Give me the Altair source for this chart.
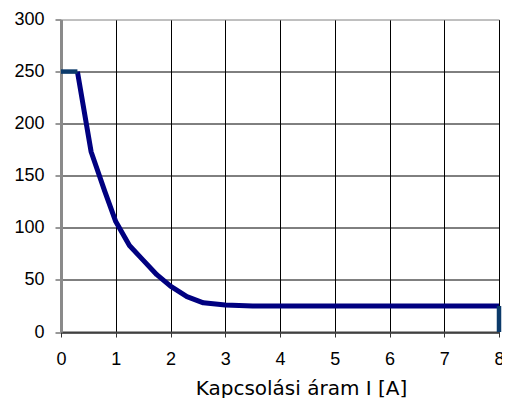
import altair as alt
import pandas as pd

# Main characteristic curve
curve_x = [0.3, 0.55, 0.8, 1.0, 1.25, 1.5, 1.75, 2.0, 2.3, 2.6, 3.0, 3.5, 8.0]
curve_y = [250, 173, 135, 106, 83, 69, 55, 44, 34, 28, 26, 25, 25]

# Limit segments (top plateau and drop at the right end)
limit_x = [0.0, 0.3, 8.0, 8.0]
limit_y = [250, 250, 25, 0]
limit_seg = [0, 0, 1, 1]

x_ticks = [0, 1, 2, 3, 4, 5, 6, 7, 8]
y_grid = [0, 25, 50, 75, 100, 125, 150, 175, 200, 225, 250, 275, 300]

curve = pd.DataFrame({"x": curve_x, "y": curve_y, "i": list(range(len(curve_x)))})
limit = pd.DataFrame({"x": limit_x, "y": limit_y, "seg": limit_seg,
                      "i": list(range(len(limit_x)))})

LABEL_FONT = "Liberation Sans"

xenc = alt.X(
    "x:Q",
    scale=alt.Scale(domain=[0, 8], nice=False, zero=False),
    axis=alt.Axis(
        values=x_ticks,
        format="d",
        title="Kapcsolási áram I [A]",
        titleFont="DejaVu Sans",
        titleFontSize=20,
        titleFontWeight="normal",
        titleColor="#000000",
        titleX=240,
        titleY=62,
        titleAlign="center",
        titleBaseline="alphabetic",
        labelFont=LABEL_FONT,
        labelFontSize=18,
        labelColor="#000000",
        labelPadding=13,
        labelFlush=False,
        labelOverlap=False,
        tickSize=5,
        tickColor="#333333",
        tickWidth=1,
        domainColor="#404040",
        domainWidth=2,
        grid=True,
        gridColor="#000000",
        gridWidth=1,
        gridOpacity=1,
    ),
)

yenc = alt.Y(
    "y:Q",
    scale=alt.Scale(domain=[0, 300], nice=False),
    axis=alt.Axis(
        values=y_grid,
        title=None,
        labelExpr="datum.value % 50 === 0 ? datum.label : ''",
        labelFont=LABEL_FONT,
        labelFontSize=18,
        labelColor="#000000",
        labelPadding=11,
        labelOverlap=False,
        tickSize=6,
        tickColor="#333333",
        tickWidth=1,
        tickOpacity={"condition": {"test": "datum.value % 50 === 0", "value": 1}, "value": 0},
        domainColor="#8a8a8a",
        domainWidth=3,
        grid=True,
        gridColor={"condition": {"test": "datum.value === 300", "value": "#808080"}, "value": "#000000"},
        gridWidth=1,
        gridOpacity=1,
    ),
)

curve_layer = alt.Chart(curve).mark_line(color="#000080", strokeWidth=5, strokeJoin="round").encode(
    x=xenc, y=yenc, order=alt.Order("i:Q")
)

limit_layer = alt.Chart(limit).mark_line(color="#0b3a6a", strokeWidth=4.5).encode(
    x=alt.X("x:Q"), y=alt.Y("y:Q"), detail="seg:N", order=alt.Order("i:Q")
)

chart = (
    alt.layer(curve_layer, limit_layer)
    .properties(
        width=438,
        height=312.5,
        autosize=alt.AutoSizeParams(type="none"),
        padding={"left": 53, "top": 11.5, "right": 3, "bottom": 66},
        background="#ffffff",
    )
    .configure_view(strokeWidth=0)
)

chart.save("out.html", embed_options={"renderer": "svg", "actions": False})
